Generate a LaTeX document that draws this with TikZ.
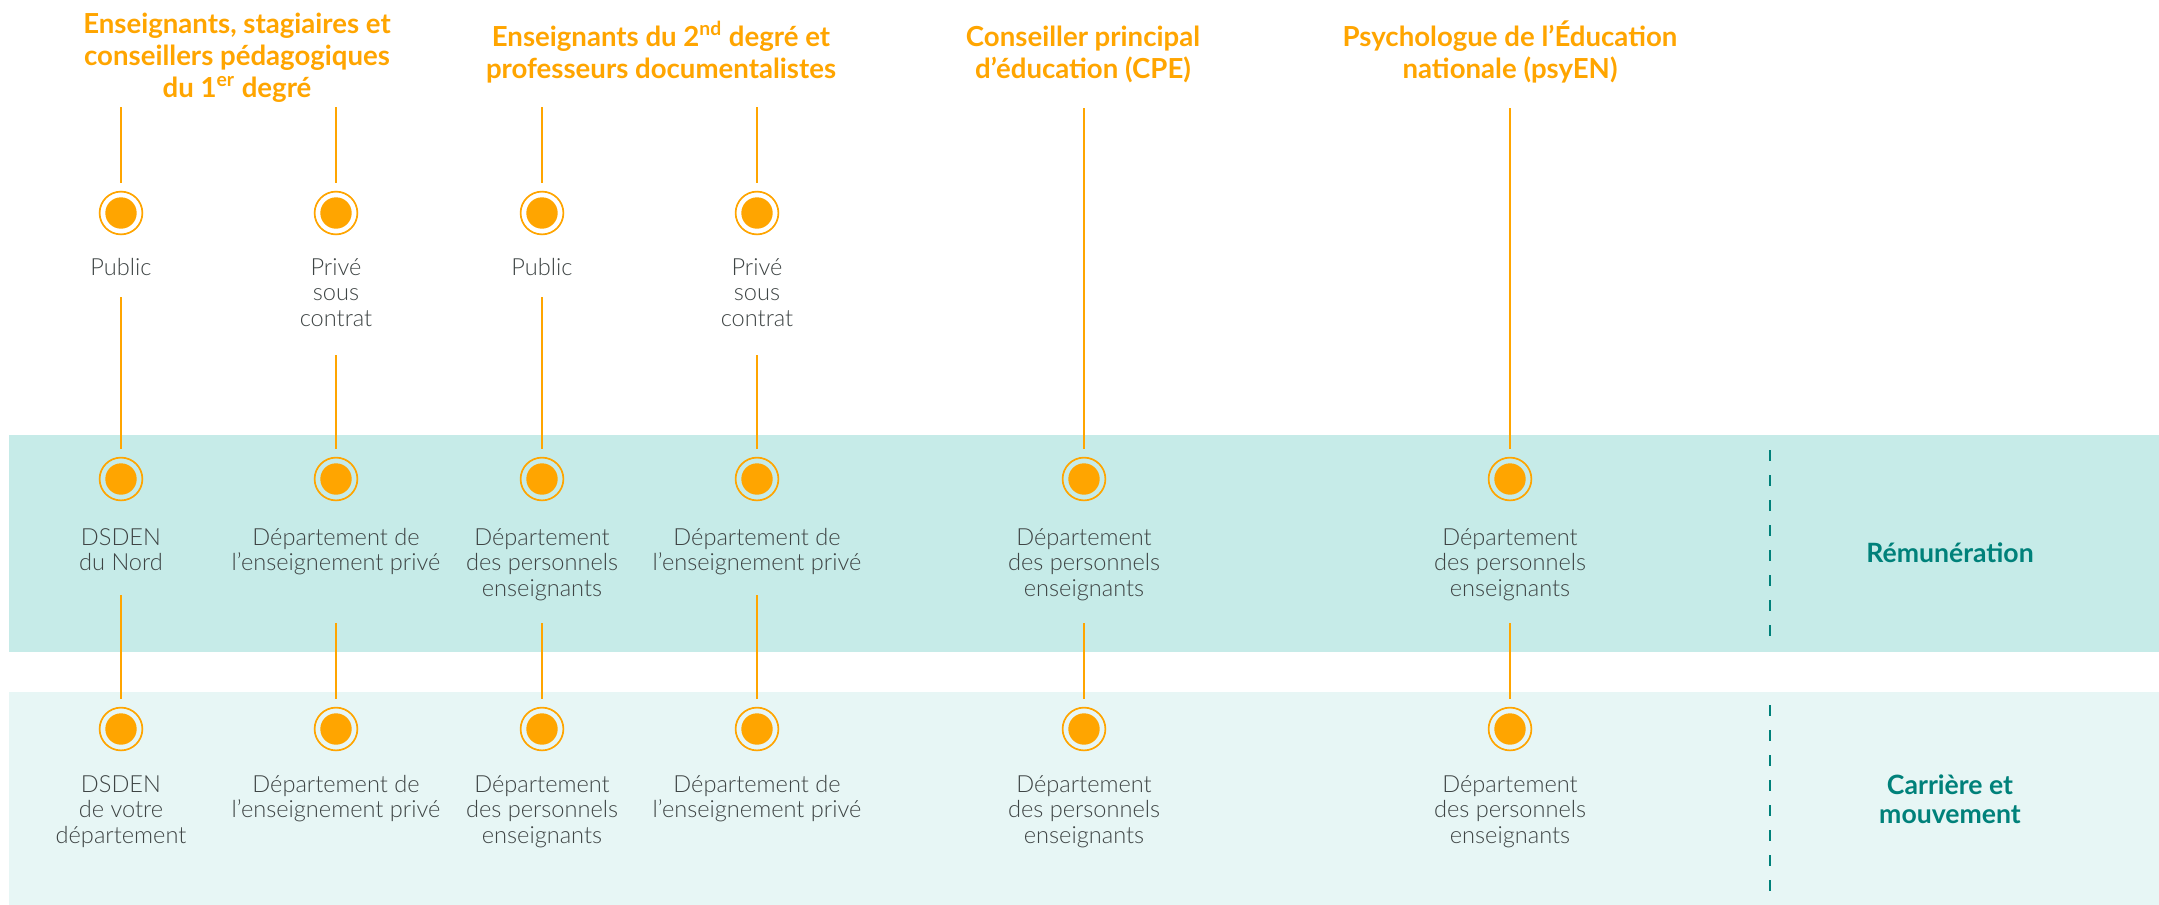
\documentclass[tikz,border=0pt]{standalone}
\usepackage{fontspec}
\setmainfont{Lato}
\newfontfamily\lightfont{Lato Light}
\definecolor{orng}{HTML}{FFA500}
\definecolor{bandA}{HTML}{C6EBE8}
\definecolor{bandB}{HTML}{E7F6F5}
\definecolor{teal}{HTML}{00817A}
\definecolor{txtgray}{HTML}{3E4444}
\tikzset{
  ttl/.style={font=\bfseries\fontsize{13.8}{16}\selectfont, text=orng, align=center, anchor=base, inner sep=0pt},
  lab/.style={font=\lightfont\fontsize{11.8}{12.75}\selectfont, text=txtgray, align=center, anchor=base, inner sep=0pt},
  side/.style={font=\bfseries\fontsize{13.3}{14.25}\selectfont, text=teal, align=center, anchor=base, inner sep=0pt},
  dot/.style={circle, draw=orng, line width=0.85pt, minimum size=21.4pt, inner sep=0pt,
    path picture={\fill[orng] (path picture bounding box.center) circle (7.85pt);}},
  conn/.style={draw=orng, line width=0.85pt, shorten >=4pt},
  sep/.style={draw=teal, line width=0.65pt, dash pattern=on 5.5pt off 7pt}
}
\begin{document}
\begin{tikzpicture}[x=0.5pt,y=-0.5pt]
\useasboundingbox (0,0) rectangle (2159,905);
\fill[white] (0,0) rectangle (2159,905);
% bands
\fill[bandA] (9,435) rectangle (2159,652);
\fill[bandB] (9,692) rectangle (2159,905);
% separators
\draw[sep] (1770,450) -- (1770,640);
\draw[sep] (1770,705) -- (1770,895);
% side labels (anchor = baseline of last line)
\node[side] (rem) at (1950,562) {Rémunération};
\node[side] (car) at (1950,823) {Carrière et\\mouvement};
% titles
\node[ttl] (t1) at (237,97) {Enseignants, stagiaires et\\conseillers pédagogiques\\du 1\textsuperscript{er} degré};
\node[ttl] (t2) at (661,78) {Enseignants du 2\textsuperscript{nd} degré et\\professeurs documentalistes};
\node[ttl] (t3) at (1083,78) {Conseiller principal\\d’éducation (CPE)};
\node[ttl] (t4) at (1510,78) {Psychologue de l’Éducation\\nationale (psyEN)};
% top circles
\node[dot] (a1) at (121,213) {};
\node[dot] (a2) at (336,213) {};
\node[dot] (a3) at (542,213) {};
\node[dot] (a4) at (757,213) {};
% middle circles
\node[dot] (b1) at (121,479) {};
\node[dot] (b2) at (336,479) {};
\node[dot] (b3) at (542,479) {};
\node[dot] (b4) at (757,479) {};
\node[dot] (b5) at (1084,479) {};
\node[dot] (b6) at (1510,479) {};
% lower circles
\node[dot] (c1) at (121,729) {};
\node[dot] (c2) at (336,729) {};
\node[dot] (c3) at (542,729) {};
\node[dot] (c4) at (757,729) {};
\node[dot] (c5) at (1084,729) {};
\node[dot] (c6) at (1510,729) {};
% top labels
\node[lab] (la1) at (121,275) {Public};
\node[lab] (la2) at (336,326) {Privé\\sous\\contrat};
\node[lab] (la3) at (542,275) {Public};
\node[lab] (la4) at (757,326) {Privé\\sous\\contrat};
% middle labels
\node[lab] (lb1) at (121,570.5) {DSDEN\\du Nord};
\node[lab] (lb2) at (336,570.5) {Département de\\l’enseignement privé};
\node[lab] (lb3) at (542,596) {Département\\des personnels\\enseignants};
\node[lab] (lb4) at (757,570.5) {Département de\\l’enseignement privé};
\node[lab] (lb5) at (1084,596) {Département\\des personnels\\enseignants};
\node[lab] (lb6) at (1510,596) {Département\\des personnels\\enseignants};
% lower labels
\node[lab] (lc1) at (121,843) {DSDEN\\de votre\\département};
\node[lab] (lc2) at (336,817.5) {Département de\\l’enseignement privé};
\node[lab] (lc3) at (542,843) {Département\\des personnels\\enseignants};
\node[lab] (lc4) at (757,817.5) {Département de\\l’enseignement privé};
\node[lab] (lc5) at (1084,843) {Département\\des personnels\\enseignants};
\node[lab] (lc6) at (1510,843) {Département\\des personnels\\enseignants};
% connector start points
\coordinate (sa1) at (121,107);
\coordinate (sa2) at (336,107);
\coordinate (sa3) at (542,107);
\coordinate (sa4) at (757,107);
\coordinate (sb1) at (121,297);
\coordinate (sb2) at (336,355);
\coordinate (sb3) at (542,297);
\coordinate (sb4) at (757,355);
\coordinate (sb5) at (1084,108);
\coordinate (sb6) at (1510,108);
\coordinate (sc1) at (121,595);
\coordinate (sc2) at (336,623);
\coordinate (sc3) at (542,623);
\coordinate (sc4) at (757,595);
\coordinate (sc5) at (1084,623);
\coordinate (sc6) at (1510,623);
% connectors
\foreach \i in {1,2,3,4}{\draw[conn] (sa\i) -- (a\i);}
\foreach \i in {1,...,6}{\draw[conn] (sb\i) -- (b\i);}
\foreach \i in {1,...,6}{\draw[conn] (sc\i) -- (c\i);}
\end{tikzpicture}
\end{document}
